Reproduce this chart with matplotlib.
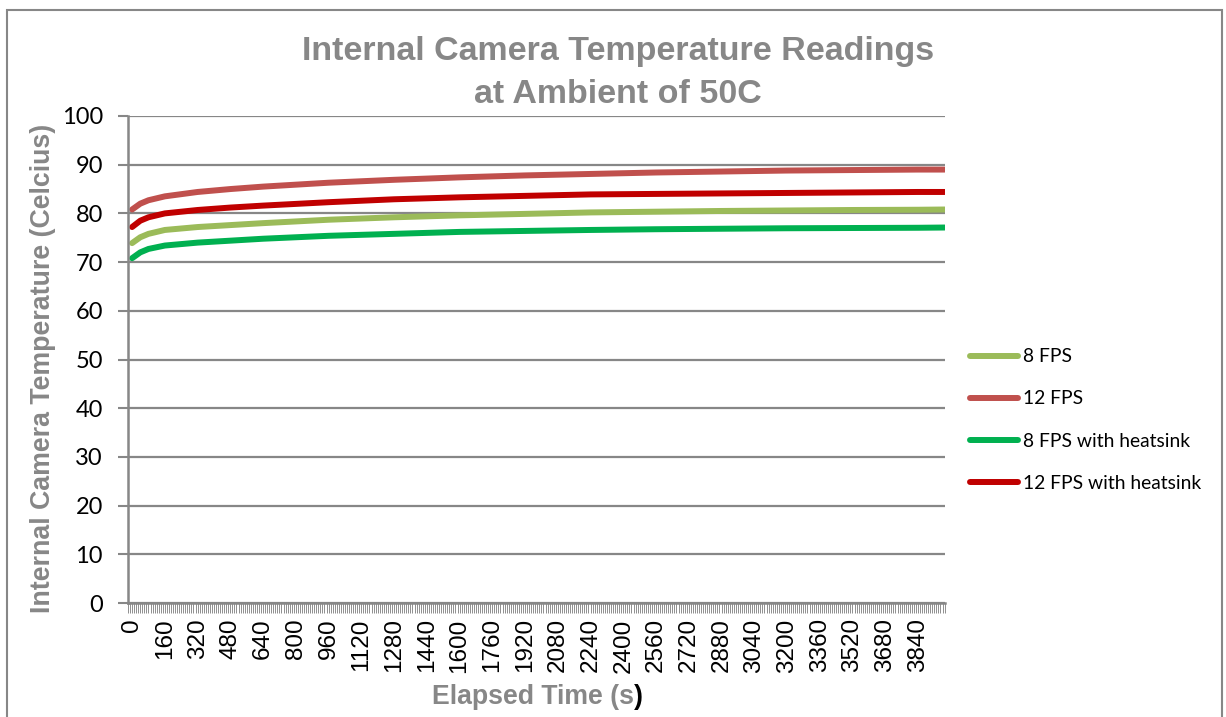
import matplotlib
matplotlib.use("Agg")
import matplotlib.pyplot as plt
from matplotlib.patches import Rectangle
import numpy as np

# ---- data ----
time_s = [0, 40, 80, 160, 320, 480, 640, 960, 1280, 1600, 1920, 2240, 2560, 2880, 3200, 3520, 3840, 3970]
fps8 = [73.9, 75.1, 75.8, 76.6, 77.2, 77.6, 78.0, 78.7, 79.2, 79.6, 79.9, 80.2, 80.35, 80.5, 80.6, 80.7, 80.75, 80.8]
fps12 = [80.8, 82.0, 82.7, 83.5, 84.4, 85.0, 85.5, 86.3, 86.9, 87.4, 87.8, 88.1, 88.4, 88.6, 88.8, 88.9, 89.0, 89.0]
fps8_hs = [70.8, 72.0, 72.7, 73.4, 74.0, 74.4, 74.8, 75.4, 75.8, 76.2, 76.4, 76.6, 76.75, 76.85, 76.95, 77.0, 77.05, 77.1]
fps12_hs = [77.2, 78.5, 79.2, 80.0, 80.7, 81.2, 81.6, 82.3, 82.9, 83.3, 83.6, 83.9, 84.0, 84.1, 84.2, 84.3, 84.4, 84.4]
series_names = ["8 FPS", "12 FPS", "8 FPS with heatsink", "12 FPS with heatsink"]
series_colors = ["#9BBB59", "#C0504D", "#00B050", "#C00000"]
x_tick_labels = [str(v) for v in range(0, 3841, 160)]
y_ticks = list(range(0, 101, 10))

W, H = 1226, 717
fig = plt.figure(figsize=(W / 100, H / 100), dpi=100)
ax = fig.add_axes([128 / W, 1 - 603 / H, (945 - 128) / W, (603 - 116) / H])

grey = "#878787"
for name, col, ys in zip(series_names, series_colors, [fps8, fps12, fps8_hs, fps12_hs]):
    ax.plot(time_s, ys, color=col, lw=4.3, label=name, solid_capstyle="round", solid_joinstyle="round")

ax.set_xlim(-20, 3972)
ax.set_ylim(0, 100)
ax.set_yticks(y_ticks)
ax.set_yticklabels([str(v) for v in y_ticks], fontfamily="Lato", fontsize=17, color="black")
ax.set_xticks([int(v) for v in x_tick_labels])
ax.set_xticklabels(x_tick_labels, rotation=90, fontfamily="Liberation Sans", fontsize=17.5, color="black")
ax.set_xticks(np.arange(-20, 3972, 10), minor=True)
ax.tick_params(axis="x", which="both", length=7, width=0.7, color="#8f8f8f", pad=4)
ax.tick_params(axis="y", length=7, width=1.5, color=grey, pad=11)
ax.yaxis.grid(True, color=grey, lw=1.6)
ax.set_axisbelow(True)
for s in ["top", "right"]:
    ax.spines[s].set_visible(False)
for s in ["left", "bottom"]:
    ax.spines[s].set_color(grey)
    ax.spines[s].set_linewidth(1.8)

ax.set_ylabel("Internal Camera Temperature (Celcius)", fontfamily="Liberation Sans", fontweight="bold",
              fontsize=19.3, color=grey)
ax.yaxis.set_label_coords((56 - 128) / 817, (603 - 368) / 487)

# x label: grey text, last parenthesis black
xl_kw = dict(fontfamily="Liberation Sans", fontweight="bold", fontsize=19.2)
t_main = fig.text(537 / W, 1 - 697 / H, "Elapsed Time (s)", ha="center", va="center", color=grey, **xl_kw)
fig.canvas.draw()
bb = t_main.get_window_extent()
t_main.set_text("Elapsed Time (s")
t_main.set_ha("left")
t_main.set_x(bb.x0 / W)
fig.canvas.draw()
bb2 = t_main.get_window_extent()
fig.text(bb2.x1 / W, 1 - 697 / H, ")", ha="left", va="center", color="black", **xl_kw)

fig.text(618 / W, 1 - 73 / H, "Internal Camera Temperature Readings\nat Ambient of 50C", ha="center",
         va="center", fontfamily="Liberation Sans", fontweight="bold", fontsize=24.5, color=grey,
         linespacing=1.5)

leg = ax.legend(loc="center left", bbox_to_anchor=(962 / W, 1 - 420 / H), bbox_transform=fig.transFigure,
                frameon=False, prop={"family": "Lato", "size": 13.9}, handlelength=2.5, handletextpad=0.25,
                labelspacing=1.3, borderaxespad=0)
for ln in leg.get_lines():
    ln.set_linewidth(4.3)
    ln.set_solid_capstyle("round")

fig.patches.append(Rectangle((7 / W, -0.05), (1222 - 7) / W, 1.05 - 10 / H, transform=fig.transFigure,
                             fill=False, edgecolor=grey, lw=1.5))

fig.savefig("out.png", dpi=100)
